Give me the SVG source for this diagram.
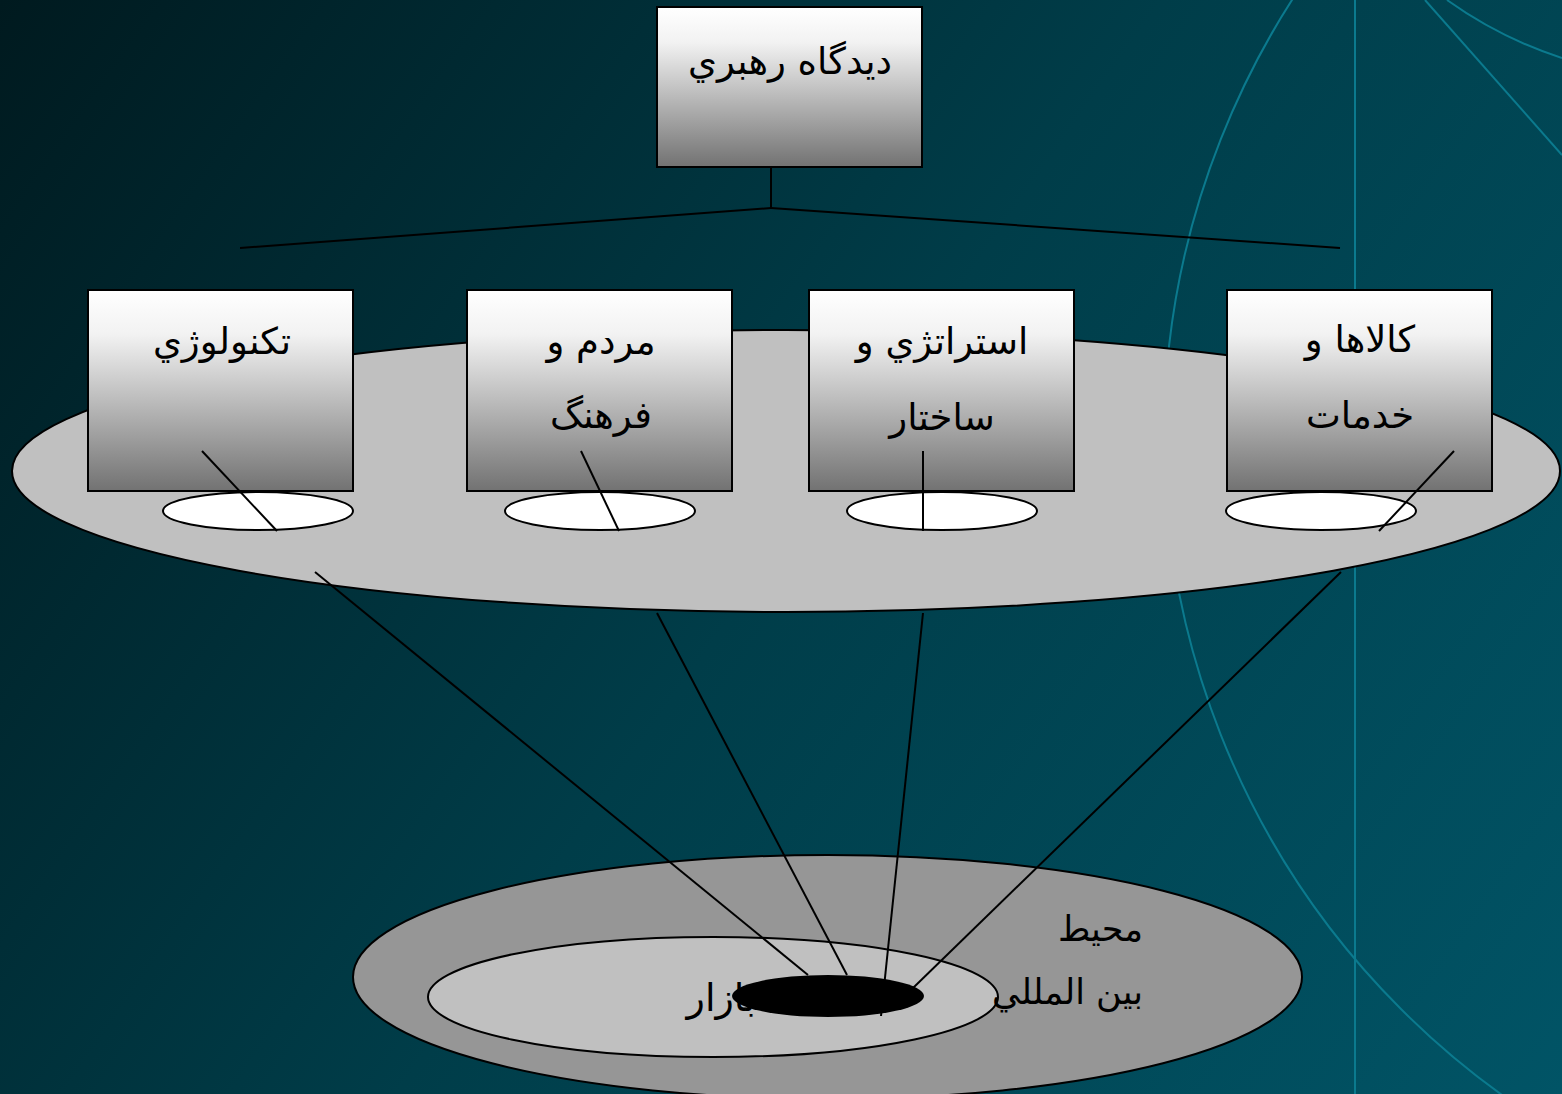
<svg xmlns="http://www.w3.org/2000/svg" width="1562" height="1094" viewBox="0 0 1562 1094">
<defs>
<linearGradient id="bg" x1="0" y1="0" x2="1562" y2="1094" gradientUnits="userSpaceOnUse">
<stop offset="0" stop-color="#001a1f"/>
<stop offset="0.5" stop-color="#003d49"/>
<stop offset="1" stop-color="#015466"/>
</linearGradient>
<linearGradient id="boxg" x1="0" y1="0" x2="0" y2="1">
<stop offset="0" stop-color="#ffffff"/>
<stop offset="0.22" stop-color="#f2f2f2"/>
<stop offset="1" stop-color="#727272"/>
</linearGradient>
<style>
.deco{fill:none;stroke:#0b7a8e;stroke-width:2}
.box{fill:url(#boxg);stroke:#000;stroke-width:2}
.ln{fill:none;stroke:#000;stroke-width:2}
.lbl{font-family:"DejaVu Sans",sans-serif;font-size:37px;fill:#000;text-anchor:middle}
.lbl2{font-family:"DejaVu Sans",sans-serif;font-size:35px;fill:#000;text-anchor:end}
.small{fill:#fff;stroke:#000;stroke-width:2}
</style>
</defs>
<rect width="1562" height="1094" fill="url(#bg)"/>
<g id="decor">
<circle class="deco" cx="1973" cy="437" r="809"/>
<line class="deco" x1="1355" y1="0" x2="1355" y2="1094"/>
<line class="deco" x1="1425" y1="0" x2="1562" y2="155"/>
<path class="deco" d="M1447,0 Q1500,38 1562,58"/>
</g>
<g id="platform">
<ellipse cx="786" cy="471" rx="774" ry="141" fill="#c0c0c0" stroke="#000" stroke-width="2"/>
</g>
<g id="environment">
<ellipse cx="827.5" cy="977" rx="474.5" ry="122" fill="#969696" stroke="#000" stroke-width="2"/>
<ellipse cx="713" cy="997" rx="285" ry="60" fill="#c0c0c0" stroke="#000" stroke-width="2"/>
<text class="lbl2" x="1143" y="941">محيط</text>
<text class="lbl2" x="1143" y="1004">بين المللي</text>
<text class="lbl2" x="756" y="1011" style="font-size:38px">بازار</text>
</g>
<g id="connectors">
<polyline class="ln" points="771,167 771,208"/>
<line class="ln" x1="771" y1="208" x2="240" y2="248"/>
<line class="ln" x1="771" y1="208" x2="1340" y2="248"/>
<line class="ln" x1="315" y1="572" x2="808" y2="975"/>
<line class="ln" x1="657" y1="613" x2="847" y2="975"/>
<line class="ln" x1="923" y1="613" x2="881" y2="1016"/>
<line class="ln" x1="1341" y1="572" x2="913" y2="988"/>
</g>
<g id="market">
<ellipse cx="828" cy="996" rx="96" ry="21" fill="#000"/>
</g>
<g id="node-top">
<rect class="box" x="657" y="7" width="265" height="160"/>
<text class="lbl" x="790" y="74">ديدگاه رهبري</text>
</g>
<g id="node-tech">
<rect class="box" x="88" y="290" width="265" height="201"/>
<ellipse class="small" cx="258" cy="511" rx="95" ry="19"/>
<line class="ln" x1="202" y1="451" x2="277" y2="531"/>
<text class="lbl" x="222" y="354">تكنولوژي</text>
</g>
<g id="node-people">
<rect class="box" x="467" y="290" width="265" height="201"/>
<ellipse class="small" cx="600" cy="511" rx="95" ry="19"/>
<line class="ln" x1="581" y1="451" x2="619" y2="531"/>
<text class="lbl" x="601" y="354">مردم و</text>
<text class="lbl" x="601" y="428">فرهنگ</text>
</g>
<g id="node-strategy">
<rect class="box" x="809" y="290" width="265" height="201"/>
<ellipse class="small" cx="942" cy="511" rx="95" ry="19"/>
<line class="ln" x1="923" y1="451" x2="923" y2="531"/>
<text class="lbl" x="942" y="354">استراتژي و</text>
<text class="lbl" x="942" y="430">ساختار</text>
</g>
<g id="node-goods">
<rect class="box" x="1227" y="290" width="265" height="201"/>
<ellipse class="small" cx="1321" cy="511" rx="95" ry="19"/>
<line class="ln" x1="1454" y1="451" x2="1379" y2="531"/>
<text class="lbl" x="1360" y="352">كالاها و</text>
<text class="lbl" x="1360" y="428">خدمات</text>
</g>
</svg>
